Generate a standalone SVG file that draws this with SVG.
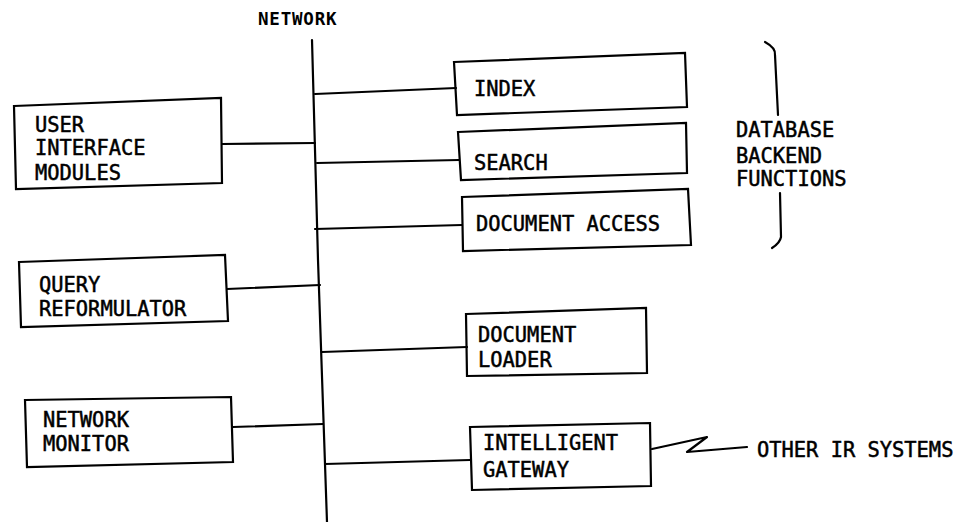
<svg xmlns="http://www.w3.org/2000/svg" width="958" height="522" viewBox="0 0 958 522">
<style>
.box{fill:none;stroke:#000;stroke-width:2.2;stroke-linejoin:miter}
.ln{fill:none;stroke:#000;stroke-width:2.2;stroke-linecap:round;stroke-linejoin:round}
.t{font-family:"DejaVu Sans Mono","Liberation Mono",monospace;font-size:20.4px;fill:#000;stroke:#000;stroke-width:0.5px}
.lbl{font-family:"DejaVu Sans Mono","Liberation Mono",monospace;font-size:17.5px;font-weight:bold;fill:#000;letter-spacing:0.8px}
</style>
<rect width="958" height="522" fill="#fff"/>
<g id="network">
<text class="lbl" x="258" y="25">NETWORK</text>
<path class="ln" d="M312,40 L318,260 L327,522" stroke-width="2.6"/>
</g>
<g id="connectors">
<path class="ln" d="M222,144 L315,143"/>
<path class="ln" d="M315,94 L456,88"/>
<path class="ln" d="M317,163 L459,160"/>
<path class="ln" d="M315,229 L462,225"/>
<path class="ln" d="M227,289 L320,285"/>
<path class="ln" d="M322,352 L467,347"/>
<path class="ln" d="M233,427 L323,424"/>
<path class="ln" d="M325,464 L470,460"/>
<path class="ln" d="M652,449 L707,437 L687,452 L747,447"/>
</g>
<g id="user-interface-modules">
<path class="box" d="M14,106 L221,98 L222,183 L16,189 Z"/>
<text class="t" x="35" y="132">USER</text>
<text class="t" x="35" y="155">INTERFACE</text>
<text class="t" x="35" y="180">MODULES</text>
</g>
<g id="index">
<path class="box" d="M454,62 L685,53 L687,107 L457,115 Z"/>
<text class="t" x="474" y="96">INDEX</text>
</g>
<g id="search">
<path class="box" d="M458,132 L686,123 L687,173 L461,180 Z"/>
<text class="t" x="474" y="170">SEARCH</text>
</g>
<g id="document-access">
<path class="box" d="M462,197 L688,189 L691,245 L463,251 Z"/>
<text class="t" x="476" y="231">DOCUMENT ACCESS</text>
</g>
<g id="database-backend-functions">
<path class="ln" d="M765,42 Q776,48 775,55 L778,115"/>
<path class="ln" d="M780,193 L781,237 Q780,243 772,248"/>
<text class="t" x="736" y="137">DATABASE</text>
<text class="t" x="736" y="163">BACKEND</text>
<text class="t" x="736" y="186">FUNCTIONS</text>
</g>
<g id="query-reformulator">
<path class="box" d="M19,262 L225,255 L228,321 L21,327 Z"/>
<text class="t" x="39" y="292">QUERY</text>
<text class="t" x="39" y="316">REFORMULATOR</text>
</g>
<g id="document-loader">
<path class="box" d="M466,314 L646,308 L647,373 L467,376 Z"/>
<text class="t" x="478" y="342">DOCUMENT</text>
<text class="t" x="478" y="367">LOADER</text>
</g>
<g id="network-monitor">
<path class="box" d="M25,400 L231,397 L233,462 L27,467 Z"/>
<text class="t" x="43" y="427">NETWORK</text>
<text class="t" x="43" y="451">MONITOR</text>
</g>
<g id="intelligent-gateway">
<path class="box" d="M470,427 L650,423 L651,486 L472,490 Z"/>
<text class="t" x="483" y="450">INTELLIGENT</text>
<text class="t" x="483" y="477">GATEWAY</text>
</g>
<g id="other-ir-systems">
<text class="t" x="757" y="457">OTHER IR SYSTEMS</text>
</g>
</svg>
